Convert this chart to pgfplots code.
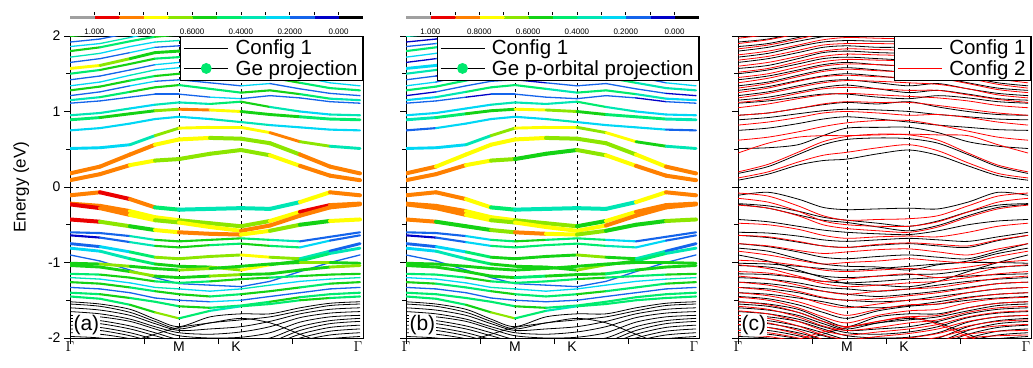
\documentclass[border=0pt]{standalone}
\usepackage{fontspec}
\setmainfont{Liberation Sans}
\usepackage{pgfplots}
\usepackage{pgfplotstable}
\pgfplotsset{compat=1.18}

% Config 1 bands (rows: band energies along Gamma-M-K-Gamma) and the Ge weights
% for panel (a) (prefix a) and the Ge p-orbital weights for panel (b) (prefix b).
\pgfplotstableread{
name v0 v1 v2 v3 v4 v5 v6 v7 v8 v9 v10
k 0 30 60 85 109 140 171 200 230 260 290
c1 0.09 0.17 0.29 0.35 0.37 0.44 0.49 0.42 0.28 0.15 0.09
c2 0.18 0.27 0.43 0.56 0.63 0.65 0.64 0.58 0.43 0.27 0.18
c3 0.51 0.52 0.56 0.68 0.78 0.79 0.79 0.72 0.60 0.54 0.51
c4 0.75 0.78 0.84 0.90 0.93 0.90 0.86 0.82 0.79 0.76 0.75
c5 0.89 0.92 0.97 1.01 1.03 1.02 1.00 0.96 0.93 0.90 0.89
c6 0.95 0.98 1.04 1.09 1.12 1.10 1.13 1.06 1.00 0.96 0.95
c7 1.11 1.14 1.19 1.23 1.23 1.19 1.17 1.21 1.18 1.13 1.11
c8 1.15 1.19 1.26 1.32 1.35 1.30 1.25 1.28 1.23 1.17 1.15
c9 1.21 1.26 1.34 1.40 1.42 1.38 1.34 1.37 1.30 1.24 1.21
c10 1.28 1.33 1.41 1.47 1.50 1.47 1.43 1.45 1.38 1.31 1.28
c11 1.34 1.39 1.48 1.55 1.58 1.55 1.52 1.53 1.46 1.38 1.34
c12 1.42 1.47 1.55 1.62 1.65 1.62 1.60 1.60 1.53 1.46 1.42
c13 1.50 1.55 1.63 1.70 1.72 1.70 1.68 1.68 1.61 1.54 1.50
c14 1.57 1.61 1.70 1.78 1.80 1.78 1.77 1.76 1.68 1.61 1.57
c15 1.65 1.70 1.78 1.85 1.87 1.85 1.85 1.83 1.76 1.69 1.65
c16 1.72 1.77 1.86 1.92 1.94 1.93 1.93 1.90 1.83 1.76 1.72
c17 1.80 1.85 1.93 1.99 2.02 2.00 2.00 1.98 1.90 1.84 1.80
c18 1.86 1.90 1.98 2.05 2.08 2.07 2.07 2.05 1.97 1.90 1.86
c19 1.92 1.96 2.04 2.10 2.13 2.12 2.12 2.10 2.03 1.96 1.92
c20 2.00 2.03 2.10 2.16 2.18 2.17 2.17 2.15 2.08 2.03 2.00
v1 -0.11 -0.07 -0.16 -0.27 -0.30 -0.29 -0.28 -0.29 -0.20 -0.07 -0.11
v2 -0.22 -0.25 -0.32 -0.40 -0.44 -0.48 -0.52 -0.45 -0.33 -0.24 -0.22
v3 -0.23 -0.28 -0.37 -0.44 -0.47 -0.53 -0.58 -0.51 -0.38 -0.27 -0.23
v4 -0.43 -0.46 -0.52 -0.57 -0.60 -0.62 -0.63 -0.58 -0.50 -0.45 -0.43
v5 -0.60 -0.61 -0.65 -0.70 -0.72 -0.70 -0.68 -0.70 -0.72 -0.66 -0.60
v6 -0.64 -0.67 -0.73 -0.78 -0.80 -0.77 -0.75 -0.78 -0.80 -0.71 -0.64
v7 -0.75 -0.79 -0.86 -0.93 -0.95 -0.92 -0.90 -0.93 -0.95 -0.85 -0.75
v8 -0.81 -0.85 -0.95 -1.02 -1.05 -1.06 -1.10 -1.03 -0.98 -0.88 -0.81
v9 -0.90 -0.98 -1.10 -1.20 -1.28 -1.30 -1.32 -1.25 -1.12 -1.00 -0.90
v10 -1.01 -1.02 -1.05 -1.08 -1.10 -1.08 -1.05 -1.02 -1.00 -1.00 -1.01
v11 -1.04 -1.06 -1.12 -1.18 -1.20 -1.18 -1.16 -1.15 -1.10 -1.06 -1.04
v12 -1.15 -1.16 -1.20 -1.25 -1.27 -1.25 -1.22 -1.20 -1.18 -1.16 -1.15
v13 -1.20 -1.22 -1.27 -1.33 -1.35 -1.38 -1.35 -1.30 -1.25 -1.22 -1.20
v14 -1.26 -1.28 -1.33 -1.38 -1.42 -1.45 -1.42 -1.38 -1.33 -1.28 -1.26
v15 -1.33 -1.35 -1.40 -1.47 -1.50 -1.52 -1.50 -1.45 -1.40 -1.35 -1.33
v16 -1.40 -1.42 -1.47 -1.52 -1.58 -1.60 -1.57 -1.52 -1.46 -1.42 -1.40
v17 -1.45 -1.48 -1.56 -1.66 -1.74 -1.64 -1.58 -1.55 -1.50 -1.47 -1.45
z1 -1.52 -1.55 -1.62 -1.75 -1.85 -1.72 -1.68 -1.68 -1.60 -1.54 -1.52
z2 -1.55 -1.58 -1.66 -1.78 -1.88 -1.80 -1.76 -1.72 -1.64 -1.57 -1.55
z3 -1.60 -1.63 -1.70 -1.81 -1.90 -1.88 -1.85 -1.78 -1.68 -1.62 -1.60
z4 -1.65 -1.68 -1.75 -1.85 -1.93 -1.95 -1.92 -1.85 -1.73 -1.67 -1.65
z5 -1.70 -1.72 -1.78 -1.88 -1.97 -2.00 -1.99 -1.93 -1.79 -1.72 -1.70
z6 -1.74 -1.77 -1.84 -1.93 -2.02 -2.05 -2.05 -2.00 -1.85 -1.77 -1.74
z7 -1.78 -1.81 -1.88 -1.97 -2.05 -2.08 -2.08 -2.05 -1.90 -1.81 -1.78
z8 -1.83 -1.86 -1.93 -2.02 -2.10 -2.12 -2.12 -2.09 -1.95 -1.86 -1.83
z9 -1.88 -1.90 -1.97 -2.06 -2.14 -2.15 -2.15 -2.12 -2.00 -1.91 -1.88
z10 -1.93 -1.95 -2.01 -2.10 -2.18 -2.20 -2.20 -2.16 -2.04 -1.96 -1.93
z11 -1.98 -2.00 -2.06 -2.15 -2.22 -2.24 -2.24 -2.20 -2.08 -2.01 -1.98
z12 -2.20 -2.15 -2.05 -1.95 -1.86 -1.80 -1.74 -1.80 -1.95 -2.10 -2.20
ac1 .85 .85 .75 .65 .65 .65 .65 .75 .85 .85 .85
ac2 .85 .85 .85 .75 .75 .65 .65 .65 .85 .85 .85
ac3 .25 .25 .35 .65 .75 .75 .75 .85 .65 .35 .25
ac4 .25 .25 .25 .25 .25 .35 .35 .25 .25 .25 .25
ac5 .45 .55 .55 .65 .85 .75 .55 .55 .45 .45 .45
ac6 .35 .35 .25 .35 .35 .45 .55 .35 .25 .35 .35
ac7 .15 .15 .15 .15 .15 .25 .15 .15 .15 .15 .15
ac8 .35 .45 .55 .55 .45 .45 .55 .55 .45 .35 .35
ac9 .15 .15 .25 .15 .15 .15 .25 .15 .15 .15 .15
ac10 .55 .55 .45 .55 .55 .45 .45 .55 .45 .45 .55
ac11 .25 .25 .35 .25 .25 .35 .35 .25 .25 .25 .25
ac12 .15 .15 .15 .25 .15 .15 .15 .15 .25 .15 .15
ac13 .45 .55 .55 .45 .45 .55 .45 .45 .55 .55 .45
ac14 .75 .65 .55 .55 .55 .55 .45 .45 .55 .65 .75
ac15 .15 .15 .25 .15 .05 .15 .15 .25 .15 .15 .15
ac16 .35 .25 .25 .35 .35 .25 .25 .35 .35 .25 .35
ac17 .55 .45 .45 .55 .45 .45 .55 .45 .45 .55 .55
ac18 .25 .35 .25 .25 .35 .35 .25 .25 .35 .25 .25
ac19 .15 .15 .15 .15 .15 .15 .15 .15 .15 .15 .15
ac20 .55 .45 .45 .45 .55 .55 .45 .45 .55 .55 .55
av1 .85 .95 .85 .45 .35 .35 .35 .35 .75 .85 .85
av2 .85 .85 .75 .75 .65 .65 .65 .75 .95 .85 .85
av3 .95 .85 .75 .65 .75 .75 .85 .85 .85 .85 .95
av4 .95 .65 .55 .75 .85 .85 .75 .65 .55 .75 .95
av5 .15 .15 .35 .55 .55 .55 .45 .35 .15 .15 .15
av6 .05 .15 .35 .55 .55 .45 .55 .45 .25 .15 .05
av7 .15 .25 .45 .65 .65 .65 .75 .65 .35 .15 .15
av8 .25 .35 .45 .55 .55 .65 .75 .55 .45 .35 .25
av9 .15 .15 .15 .15 .15 .15 .15 .15 .15 .15 .15
av10 .55 .65 .55 .55 .65 .55 .55 .55 .65 .55 .55
av11 .55 .55 .65 .55 .55 .65 .55 .55 .55 .65 .55
av12 .45 .55 .55 .45 .45 .55 .55 .45 .55 .55 .45
av13 .35 .25 .25 .35 .25 .25 .35 .25 .25 .35 .35
av14 .55 .55 .45 .55 .55 .45 .55 .55 .45 .55 .55
av15 .15 .15 .15 .15 .15 .25 .15 .15 .15 .15 .15
av16 .45 .55 .45 .45 .55 .45 .45 .55 .45 .45 .45
av17 .45 .45 .55 .65 .45 .35 .45 .45 .55 .45 .45
bc1 .85 .85 .75 .65 .55 .55 .65 .75 .85 .85 .85
bc2 .85 .75 .75 .75 .75 .65 .65 .65 .75 .85 .85
bc3 .25 .25 .35 .65 .75 .75 .65 .75 .55 .35 .25
bc4 .15 .25 .25 .25 .25 .35 .25 .25 .25 .15 .15
bc5 .35 .45 .55 .55 .75 .65 .55 .45 .45 .35 .35
bc6 .25 .25 .25 .35 .35 .35 .45 .35 .25 .25 .25
bc7 .15 .15 .05 .15 .15 .15 .15 .15 .05 .15 .15
bc8 .25 .35 .45 .45 .45 .35 .45 .45 .35 .25 .25
bc9 .05 .15 .15 .15 .05 .15 .15 .15 .15 .05 .05
bc10 .45 .45 .35 .45 .45 .35 .35 .45 .35 .35 .45
bc11 .25 .15 .25 .25 .15 .25 .25 .25 .15 .25 .25
bc12 .15 .05 .15 .15 .15 .05 .15 .15 .15 .05 .15
bc13 .35 .45 .45 .35 .35 .45 .35 .35 .45 .45 .35
bc14 .25 .25 .35 .35 .25 .25 .35 .35 .25 .25 .25
bc15 .05 .15 .15 .05 .05 .15 .15 .15 .05 .15 .05
bc16 .25 .25 .15 .25 .25 .15 .25 .25 .25 .15 .25
bc17 .45 .35 .35 .45 .35 .35 .45 .35 .35 .45 .45
bc18 .15 .25 .25 .15 .25 .25 .15 .25 .25 .15 .15
bc19 .05 .05 .15 .05 .05 .15 .05 .05 .15 .05 .05
bc20 .35 .25 .35 .35 .45 .35 .35 .35 .45 .35 .35
bv1 .85 .85 .75 .45 .35 .35 .35 .35 .75 .85 .85
bv2 .85 .85 .75 .75 .65 .65 .55 .75 .85 .85 .85
bv3 .85 .85 .75 .65 .75 .75 .75 .85 .85 .85 .85
bv4 .85 .55 .55 .65 .85 .75 .65 .55 .55 .65 .85
bv5 .15 .15 .25 .45 .55 .45 .45 .25 .15 .15 .15
bv6 .05 .15 .25 .45 .45 .45 .45 .35 .25 .15 .05
bv7 .15 .25 .45 .55 .55 .55 .65 .55 .35 .15 .15
bv8 .25 .35 .45 .55 .55 .55 .65 .55 .45 .35 .25
bv9 .15 .15 .15 .15 .15 .15 .15 .15 .15 .15 .15
bv10 .55 .55 .55 .55 .55 .55 .55 .55 .55 .55 .55
bv11 .55 .55 .55 .55 .45 .55 .55 .45 .55 .55 .55
bv12 .45 .45 .55 .45 .45 .45 .55 .45 .45 .55 .45
bv13 .25 .25 .25 .35 .25 .25 .25 .25 .25 .35 .25
bv14 .55 .45 .45 .55 .45 .45 .55 .45 .45 .55 .55
bv15 .15 .15 .15 .15 .15 .15 .15 .15 .15 .15 .15
bv16 .45 .45 .45 .45 .55 .45 .45 .45 .45 .45 .45
bv17 .45 .45 .55 .65 .45 .35 .45 .45 .45 .45 .45
}\cfgoneraw
\pgfplotstabletranspose[colnames from=name]\cfgone\cfgoneraw

% Config 2 bands
\pgfplotstableread{
name v0 v1 v2 v3 v4 v5 v6 v7 v8 v9 v10
k 0 30 60 85 109 140 171 200 230 260 290
r1 0.12 0.20 0.33 0.42 0.46 0.52 0.56 0.48 0.32 0.18 0.12
r2 0.20 0.30 0.46 0.60 0.67 0.70 0.69 0.62 0.45 0.29 0.20
r3 0.45 0.58 0.66 0.68 0.68 0.69 0.70 0.69 0.68 0.56 0.45
r4 0.62 0.66 0.73 0.80 0.85 0.88 0.88 0.82 0.74 0.66 0.62
r5 0.82 0.86 0.92 0.98 1.00 0.98 0.95 0.96 0.92 0.86 0.82
r6 0.95 0.98 1.04 1.10 1.13 1.12 1.12 1.08 1.03 0.98 0.95
r7 1.05 1.10 1.17 1.22 1.24 1.22 1.20 1.18 1.14 1.08 1.05
r8 1.12 1.16 1.24 1.30 1.32 1.30 1.28 1.28 1.22 1.16 1.12
r9 1.18 1.24 1.32 1.38 1.41 1.40 1.38 1.36 1.30 1.22 1.18
r10 1.25 1.31 1.40 1.46 1.48 1.46 1.45 1.44 1.37 1.29 1.25
r11 1.31 1.37 1.46 1.53 1.56 1.54 1.52 1.50 1.44 1.36 1.31
r12 1.38 1.44 1.53 1.60 1.63 1.62 1.60 1.58 1.51 1.43 1.38
r13 1.45 1.50 1.59 1.66 1.69 1.68 1.67 1.65 1.58 1.50 1.45
r14 1.52 1.57 1.66 1.73 1.76 1.75 1.74 1.72 1.65 1.57 1.52
r15 1.60 1.65 1.73 1.80 1.83 1.82 1.81 1.79 1.72 1.65 1.60
r16 1.68 1.73 1.81 1.88 1.90 1.90 1.89 1.87 1.80 1.73 1.68
r17 1.75 1.80 1.88 1.95 1.98 1.97 1.96 1.94 1.87 1.80 1.75
r18 1.83 1.88 1.96 2.03 2.05 2.05 2.04 2.02 1.95 1.88 1.83
r19 1.90 1.95 2.03 2.10 2.12 2.12 2.11 2.09 2.02 1.95 1.90
r20 1.97 2.02 2.10 2.16 2.19 2.18 2.17 2.15 2.08 2.02 1.97
s1 -0.08 -0.12 -0.25 -0.38 -0.44 -0.43 -0.42 -0.38 -0.25 -0.12 -0.08
s2 -0.15 -0.20 -0.32 -0.45 -0.50 -0.52 -0.52 -0.46 -0.33 -0.20 -0.15
s3 -0.24 -0.28 -0.38 -0.50 -0.55 -0.58 -0.60 -0.53 -0.40 -0.29 -0.24
s4 -0.48 -0.50 -0.56 -0.64 -0.68 -0.66 -0.65 -0.66 -0.60 -0.52 -0.48
s5 -0.64 -0.66 -0.72 -0.78 -0.80 -0.76 -0.74 -0.76 -0.78 -0.70 -0.64
s6 -0.75 -0.78 -0.84 -0.88 -0.86 -0.83 -0.82 -0.86 -0.90 -0.82 -0.75
s7 -0.85 -0.90 -0.97 -1.02 -1.00 -0.98 -0.95 -0.98 -1.00 -0.92 -0.85
s8 -0.97 -0.99 -1.04 -1.10 -1.12 -1.10 -1.08 -1.10 -1.06 -1.00 -0.97
s9 -1.03 -1.08 -1.18 -1.25 -1.22 -1.18 -1.15 -1.20 -1.16 -1.07 -1.03
s10 -1.12 -1.14 -1.20 -1.28 -1.32 -1.30 -1.27 -1.25 -1.20 -1.15 -1.12
s11 -1.18 -1.22 -1.30 -1.38 -1.42 -1.38 -1.35 -1.33 -1.27 -1.21 -1.18
s12 -1.26 -1.30 -1.38 -1.46 -1.50 -1.48 -1.44 -1.40 -1.34 -1.28 -1.26
s13 -1.33 -1.37 -1.45 -1.55 -1.60 -1.55 -1.50 -1.48 -1.40 -1.35 -1.33
s14 -1.40 -1.44 -1.52 -1.62 -1.70 -1.62 -1.56 -1.55 -1.47 -1.42 -1.40
s15 -1.46 -1.50 -1.60 -1.72 -1.80 -1.70 -1.64 -1.62 -1.53 -1.48 -1.46
s16 -1.52 -1.56 -1.66 -1.78 -1.85 -1.78 -1.72 -1.70 -1.60 -1.54 -1.52
s17 -1.58 -1.62 -1.72 -1.84 -1.90 -1.86 -1.80 -1.76 -1.66 -1.60 -1.58
s18 -1.64 -1.68 -1.78 -1.90 -1.96 -1.92 -1.88 -1.82 -1.72 -1.66 -1.64
s19 -1.70 -1.74 -1.84 -1.96 -2.02 -1.98 -1.94 -1.88 -1.78 -1.72 -1.70
s20 -1.76 -1.80 -1.90 -2.02 -2.08 -2.04 -2.00 -1.94 -1.84 -1.78 -1.76
s21 -1.82 -1.86 -1.95 -2.06 -2.12 -2.08 -2.05 -1.99 -1.89 -1.84 -1.82
s22 -1.90 -1.93 -2.00 -2.10 -2.16 -2.12 -2.10 -2.04 -1.95 -1.91 -1.90
s23 -1.96 -1.98 -2.05 -2.14 -2.20 -2.16 -2.14 -2.08 -2.00 -1.97 -1.96
s24 -2.25 -2.15 -2.02 -1.92 -1.86 -1.78 -1.72 -1.82 -1.98 -2.12 -2.25
}\cfgtworaw
\pgfplotstabletranspose[colnames from=name]\cfgtwo\cfgtworaw

\definecolor{dotgreen}{RGB}{0,232,110}

\pgfplotsset{
  bandaxis/.style={
    scale only axis, width=293pt, height=302pt,
    xmin=0, xmax=293, ymin=-2, ymax=2,
    xtick={0,74,148,222}, xticklabels={},
    extra x ticks={0,109,166,288},
    extra x tick labels={$\Gamma$,M,K,$\Gamma$},
    extra x tick style={major tick length=0pt},
    ytick={-2,-1,0,1,2}, minor ytick={-1.5,-0.5,0.5,1.5},
    yticklabels={},
    tick pos=left, tick align=outside,
    major tick length=6pt, minor tick length=4pt,
    axis line style={line width=1pt},
    tick style={black, line width=0.9pt},
    ticklabel style={font=\fontsize{14}{16}\selectfont},
    legend cell align=left,
    legend style={at={(1,1)}, anchor=north east, draw=black, line width=0.8pt,
      fill=white, font=\fontsize{20.5}{23}\selectfont, inner xsep=3pt,
      inner ysep=1.5pt,
      /tikz/every odd column/.append style={column sep=5pt}},
    colormap={proj}{rgb255(0)=(0,0,0) rgb255(1)=(0,0,200) rgb255(2)=(20,100,235)
      rgb255(3)=(0,215,245) rgb255(4)=(0,230,180) rgb255(5)=(0,235,110)
      rgb255(6)=(20,210,20) rgb255(7)=(140,230,0) rgb255(8)=(255,255,0)
      rgb255(9)=(255,128,0) rgb255(10)=(235,0,0) rgb255(11)=(160,160,160)
      rgb255(12)=(160,160,160)},
    colormap access=piecewise constant,
    point meta min=-0.1, point meta max=1.1,
  },
  projbar/.style={
    colorbar horizontal,
    colorbar style={
      at={(parent axis.north west)}, anchor=south west, yshift=26.5pt,
      height=2.6pt, x dir=reverse,
      xtick={0,0.2,0.4,0.6,0.8,1},
      xticklabels={0.000,0.2000,0.4000,0.6000,0.8000,1.000},
      minor xtick={0.1,0.3,0.5,0.7,0.9},
      xtick pos=upper, xticklabel pos=lower, tick align=outside,
      major tick length=3pt, minor tick length=3pt,
      tick style={black, line width=0.6pt},
      axis line style={draw=none},
      xticklabel style={font=\fontsize{8}{9}\selectfont},
      xticklabel shift=4.5pt,
    },
  },
  proj/.style={mesh, shader=flat corner, point meta=explicit,
    line width=#1, line cap=round, line join=round, forget plot},
  guide/.style={black, line width=0.7pt, dash pattern=on 3pt off 3pt, forget plot},
  cfg/.style={line width=0.8pt, smooth, forget plot},
}

% legend samples: a 44pt line, or a dot centred on the same 44pt slot
\newcommand{\lineimage}[1]{\addlegendimage{legend image code/.code={%
  \draw[#1,line width=0.8pt] (0pt,0pt) -- (44pt,0pt);}}}
\newcommand{\dotimage}{\addlegendimage{legend image code/.code={%
  \path (0pt,0pt) -- (44pt,0pt); \fill[dotgreen] (22pt,0pt) circle (5pt);}}}

\newcommand{\guides}{%
  \addplot[guide] coordinates {(109,-2) (109,2)};
  \addplot[guide] coordinates {(171,-2) (171,2)};
  \addplot[guide] coordinates {(0,0) (293,0)};
}

\begin{document}
\begin{tikzpicture}
\useasboundingbox (0,0) rectangle (1033pt,367pt);

% (a) Ge projection
\begin{axis}[bandaxis, projbar, at={(70pt,29pt)}, anchor=south west,
  yticklabels={-2,-1,0,1,2},
  ylabel={Energy (eV)}, ylabel style={font=\fontsize{17}{20}\selectfont},
  ylabel shift=12pt]
\lineimage{black}
\addlegendentry{Config 1}
\dotimage
\addlegendentry{Ge projection}
\guides
\pgfplotsinvokeforeach{z1,z2,z3,z4,z5,z6,z7,z8,z9,z10,z11,z12}{
  \addplot[cfg, black] table[x=k,y=#1]{\cfgone};}
\pgfplotsinvokeforeach{c7,c9,c11,c12,c15,c16,c18,c19,v9,v13,v15}{
  \addplot[proj=1.3pt] table[x=k,y=#1,meta=a#1]{\cfgone};}
\pgfplotsinvokeforeach{c4,c6,c8,c10,c13,c17,c20,v5,v6,v12,v14,v16,v17}{
  \addplot[proj=2.1pt] table[x=k,y=#1,meta=a#1]{\cfgone};}
\pgfplotsinvokeforeach{c3,c5,c14,v7,v8,v10,v11}{
  \addplot[proj=2.9pt] table[x=k,y=#1,meta=a#1]{\cfgone};}
\pgfplotsinvokeforeach{c1,c2,v1,v2,v3,v4}{
  \addplot[proj=4pt] table[x=k,y=#1,meta=a#1]{\cfgone};}
\node[fill=white, inner sep=1pt, anchor=south west, font=\fontsize{21}{24}\selectfont]
  at (rel axis cs:0.008,0.005) {(a)};
\end{axis}

% (b) Ge p-orbital projection
\begin{axis}[bandaxis, projbar, at={(406pt,29pt)}, anchor=south west]
\lineimage{black}
\addlegendentry{Config 1}
\dotimage
\addlegendentry{Ge p-orbital projection}
\guides
\pgfplotsinvokeforeach{z1,z2,z3,z4,z5,z6,z7,z8,z9,z10,z11,z12}{
  \addplot[cfg, black] table[x=k,y=#1]{\cfgone};}
\pgfplotsinvokeforeach{c7,c9,c11,c12,c15,c16,c18,c19,v9,v13,v15}{
  \addplot[proj=1.3pt] table[x=k,y=#1,meta=b#1]{\cfgone};}
\pgfplotsinvokeforeach{c4,c6,c8,c10,c13,c17,c20,v5,v6,v12,v14,v16,v17}{
  \addplot[proj=2.1pt] table[x=k,y=#1,meta=b#1]{\cfgone};}
\pgfplotsinvokeforeach{c3,c5,c14,v7,v8,v10,v11}{
  \addplot[proj=2.9pt] table[x=k,y=#1,meta=b#1]{\cfgone};}
\pgfplotsinvokeforeach{c1,c2,v1,v2,v3,v4}{
  \addplot[proj=4pt] table[x=k,y=#1,meta=b#1]{\cfgone};}
\node[fill=white, inner sep=1pt, anchor=south west, font=\fontsize{21}{24}\selectfont]
  at (rel axis cs:0.008,0.005) {(b)};
\end{axis}

% (c) Config 1 against Config 2
\begin{axis}[bandaxis, at={(738pt,29pt)}, anchor=south west]
\lineimage{black}
\addlegendentry{Config 1}
\lineimage{red}
\addlegendentry{Config 2}
\guides
\pgfplotsinvokeforeach{c1,c2,c3,c4,c5,c6,c7,c8,c9,c10,c11,c12,c13,c14,c15,c16,c17,c18,c19,c20,
  v1,v2,v3,v4,v5,v6,v7,v8,v9,v10,v11,v12,v13,v14,v15,v16,v17,
  z1,z2,z3,z4,z5,z6,z7,z8,z9,z10,z11,z12}{
  \addplot[cfg, black] table[x=k,y=#1]{\cfgone};}
\pgfplotsinvokeforeach{r1,r2,r3,r4,r5,r6,r7,r8,r9,r10,r11,r12,r13,r14,r15,r16,r17,r18,r19,r20,
  s1,s2,s3,s4,s5,s6,s7,s8,s9,s10,s11,s12,s13,s14,s15,s16,s17,s18,s19,s20,s21,s22,s23,s24}{
  \addplot[cfg, red] table[x=k,y=#1]{\cfgtwo};}
\node[fill=white, inner sep=1pt, anchor=south west, font=\fontsize{21}{24}\selectfont]
  at (rel axis cs:0.008,0.005) {(c)};
\end{axis}
\end{tikzpicture}
\end{document}
